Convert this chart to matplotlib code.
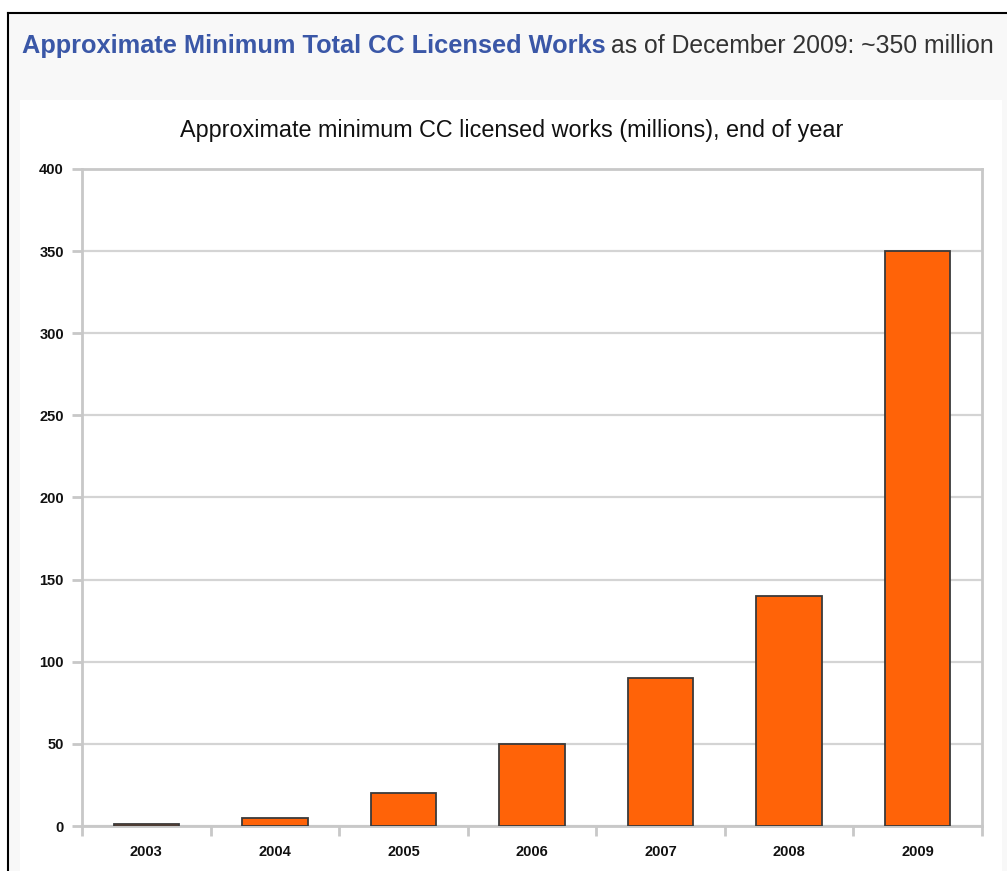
import matplotlib.pyplot as plt
from matplotlib.patches import Rectangle

years = ["2003", "2004", "2005", "2006", "2007", "2008", "2009"]
works = [1, 5, 20, 50, 90, 140, 350]  # millions, end of year
yticks = [0, 50, 100, 150, 200, 250, 300, 350, 400]

W, H = 1007, 871
fig = plt.figure(figsize=(W / 100, H / 100), dpi=100)
fig.patch.set_facecolor("white")

def px(x, y, w, h):
    # pixel box (top-left origin) -> figure fraction
    return [x / W, 1 - (y + h) / H, w / W, h / H]

# page background + border
fig.patches.append(Rectangle((8 / W, 0), 1, 1 - 13 / H, transform=fig.transFigure,
                             facecolor="#f8f8f8", edgecolor="none", zorder=0))
fig.lines.append(plt.Line2D([8 / W, 8 / W], [0, 1 - 13 / H], transform=fig.transFigure,
                            color="black", lw=1.5))
fig.lines.append(plt.Line2D([8 / W, 1], [1 - 13 / H, 1 - 13 / H], transform=fig.transFigure,
                            color="black", lw=1.5))
fig.patches.append(Rectangle((20 / W, 0), (1002 - 20) / W, 1 - 100 / H, transform=fig.transFigure,
                             facecolor="white", edgecolor="none", zorder=0))

# header
t1 = fig.text(22 / W, 1 - 46 / H, "Approximate Minimum Total CC Licensed Works",
              fontsize=18.3, fontweight="bold", color="#3a57a7",
              family="Liberation Sans", va="center", ha="left")
fig.canvas.draw()
bb = t1.get_window_extent()
fig.text(bb.x1 / W + 0.005, 1 - 46 / H, "as of December 2009: ~350 million",
         fontsize=17.8, color="#333333", family="Liberation Sans", va="center", ha="left")

# chart title
fig.text(512 / W, 1 - 131 / H, "Approximate minimum CC licensed works (millions), end of year",
         fontsize=16.8, color="#111111", family="Liberation Sans", ha="center", va="center")

ax = fig.add_axes(px(82, 169, 982 - 82, 826 - 169), zorder=3)
ax.set_facecolor("white")
x = list(range(len(years)))
ax.bar(x, works, width=0.51, color="#ff6308", edgecolor="#3a3a3a", linewidth=1.3, zorder=3)

ax.set_xlim(-0.5, len(years) - 0.5)
ax.set_ylim(0, 400)
ax.set_yticks(yticks)
ax.set_yticklabels([str(v) for v in yticks], fontsize=10.5, fontweight="bold",
                   family="Liberation Sans", color="#111111")
ax.set_xticks(x)
ax.set_xticklabels(years, fontsize=10.5, fontweight="bold", family="Liberation Sans", color="#111111")
ax.set_xticks([i - 0.5 for i in range(len(years) + 1)], minor=True)
ax.tick_params(axis="x", which="major", length=0, pad=14)
ax.tick_params(axis="x", which="minor", length=7, width=2, color="#c8c8c8")
ax.tick_params(axis="y", length=7, width=2, color="#c8c8c8", pad=6)
ax.yaxis.grid(True, color="#d4d4d4", lw=1.6, zorder=0)
ax.set_axisbelow(True)
for s in ["left", "bottom", "right", "top"]:
    ax.spines[s].set_color("#c8c8c8")
    ax.spines[s].set_linewidth(2)

fig.savefig("out.png", dpi=100)
